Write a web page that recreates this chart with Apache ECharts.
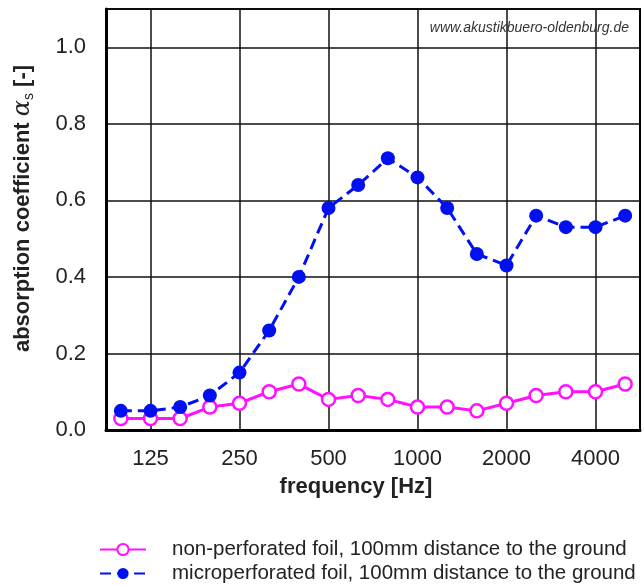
<!DOCTYPE html>
<html>
<head>
<meta charset="utf-8">
<script src="https://cdn.jsdelivr.net/npm/echarts@6/dist/echarts.min.js"></script>
<style>
  html, body { margin: 0; padding: 0; background: #fff; }
  #chart { width: 644px; height: 586px; }
</style>
</head>
<body>
<div id="chart"></div>
<script>
// third-octave band centre frequencies
const frequencies = ["100", "125", "160", "200", "250", "315", "400", "500", "630",
  "800", "1000", "1250", "1600", "2000", "2500", "3150", "4000", "5000"];
const labeledFrequencies = ["125", "250", "500", "1000", "2000", "4000"];

const nonPerforated = [0.03, 0.03, 0.03, 0.06, 0.07, 0.10, 0.12, 0.08, 0.09,
  0.08, 0.06, 0.06, 0.05, 0.07, 0.09, 0.10, 0.10, 0.12];
const microPerforated = [0.05, 0.05, 0.06, 0.09, 0.15, 0.26, 0.40, 0.58, 0.64,
  0.71, 0.66, 0.58, 0.46, 0.43, 0.56, 0.53, 0.53, 0.56];

const seriesNames = [
  "non-perforated foil, 100mm distance to the ground",
  "microperforated foil, 100mm distance to the ground",
];

const chart = echarts.init(document.getElementById("chart"));
const font = "Liberation Sans, Arial, sans-serif";
const isLabeled = (idx) => labeledFrequencies.includes(frequencies[idx]);

const option = {
  backgroundColor: "#fff",
  animation: false,
  textStyle: { fontFamily: font },
  title: {
    text: "www.akustikbuero-oldenburg.de",
    right: 10,
    top: 16,
    textStyle: { fontSize: 14, fontStyle: "italic", fontWeight: "normal", color: "#333", fontFamily: font },
  },
  grid: {
    left: 106,
    right: 4,
    top: 9,
    bottom: 156,
    show: true,
    borderColor: "#000",
    borderWidth: 2,
  },
  legend: {
    orient: "vertical",
    left: 94,
    bottom: -3,
    itemWidth: 46,
    itemHeight: 14,
    itemGap: 3,
    data: seriesNames,
    textStyle: { fontSize: 20.5, color: "#222", padding: [0, 0, 0, 21], fontFamily: font },
  },
  xAxis: {
    type: "category",
    data: frequencies,
    boundaryGap: true,
    name: "frequency [Hz]",
    nameLocation: "middle",
    nameGap: 46,
    nameTextStyle: { fontSize: 22, fontWeight: "bold", color: "#222", padding: [0, 34, 0, 0] },
    axisLine: { lineStyle: { color: "#000", width: 3 } },
    axisTick: { show: false },
    axisLabel: {
      interval: (idx) => isLabeled(idx),
      fontSize: 22,
      color: "#222",
      margin: 18,
    },
    splitLine: {
      show: true,
      alignWithLabel: true,
      interval: (idx) => isLabeled(idx),
      lineStyle: { color: "#111", width: 1.5 },
    },
  },
  yAxis: {
    type: "value",
    min: 0,
    max: 1.1,
    interval: 0.2,
    name: "absorption coefficient {a|α}{s|s} [-]",
    nameLocation: "middle",
    nameGap: 70,
    nameTextStyle: {
      fontSize: 22,
      fontWeight: "bold",
      color: "#222",
      padding: [0, 0, 0, 22],
      rich: {
        a: { fontSize: 24, fontStyle: "italic", fontWeight: "normal", fontFamily: "DejaVu Serif", color: "#222" },
        s: { fontSize: 14, fontWeight: "normal", color: "#222", verticalAlign: "bottom", padding: [12, 0, 0, 0] },
      },
    },
    axisLine: { show: true, lineStyle: { color: "#000", width: 3 } },
    axisTick: { show: false },
    axisLabel: {
      fontSize: 22,
      color: "#222",
      margin: 20,
      formatter: (v) => (v > 1.05 ? "" : v.toFixed(1)),
    },
    splitLine: { show: true, lineStyle: { color: "#111", width: 1.5 } },
  },
  series: [
    {
      name: seriesNames[0],
      type: "line",
      data: nonPerforated,
      z: 3,
      symbol: "circle",
      symbolSize: 13,
      itemStyle: { color: "#fff", borderColor: "#ff10ff", borderWidth: 2.5 },
      lineStyle: { color: "#ff10ff", width: 3 },
    },
    {
      name: seriesNames[1],
      type: "line",
      data: microPerforated,
      z: 4,
      symbol: "circle",
      symbolSize: 14,
      itemStyle: { color: "#0010f0" },
      lineStyle: { color: "#0010f0", width: 3, type: [11, 6] },
    },
  ],
};

chart.setOption(option);
</script>
</body>
</html>
